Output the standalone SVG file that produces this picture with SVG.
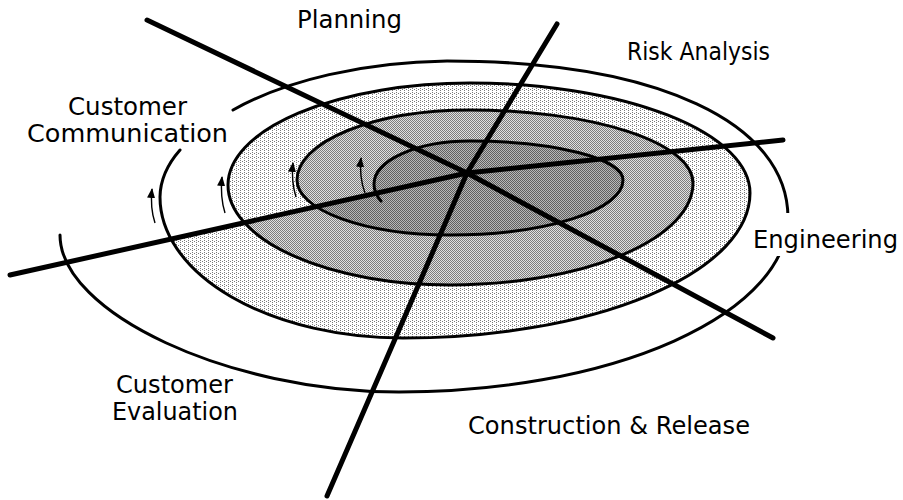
<svg xmlns="http://www.w3.org/2000/svg" width="903" height="500" viewBox="0 0 903 500">
<defs>
<pattern id="pLight" width="4" height="4" patternUnits="userSpaceOnUse"><rect width="4" height="4" fill="#fff"/><rect x="0" y="0" width="1" height="1" fill="#7a7a7a"/><rect x="2" y="1" width="1" height="1" fill="#7a7a7a"/><rect x="0" y="2" width="1" height="1" fill="#7a7a7a"/></pattern>
<pattern id="pMed" width="2" height="2" patternUnits="userSpaceOnUse"><rect width="2" height="2" fill="#e0e0e0"/><rect x="0" y="0" width="1" height="1" fill="#7c7c7c"/><rect x="1" y="1" width="1" height="1" fill="#7c7c7c"/></pattern>
<pattern id="pDark" width="2" height="2" patternUnits="userSpaceOnUse"><rect width="2" height="2" fill="#b8b8b8"/><rect x="0" y="0" width="1" height="1" fill="#606060"/><rect x="1" y="1" width="1" height="1" fill="#606060"/></pattern>
<marker id="ah" viewBox="0 0 10 8" refX="9" refY="4" markerWidth="10" markerHeight="8" markerUnits="userSpaceOnUse" orient="auto"><path d="M0,0 L10,4 L0,8 z" fill="#000"/></marker>
</defs>
<style>
.curve{fill:none;stroke:#000;stroke-width:3;stroke-linecap:round}
.axis{fill:none;stroke:#000;stroke-width:5;stroke-linecap:round;stroke-linejoin:round}
.arr{fill:none;stroke:#000;stroke-width:1.4}
.lbl{font-family:"DejaVu Sans","Liberation Sans",sans-serif;font-size:24px;fill:#000}
</style>
<g id="fills">
<path fill="url(#pLight)" d="M172 240 A243 141 0 0 0 403 338 A347 145 0 0 0 750 193 A280 110 0 0 0 470 83 A242 102 0 0 0 228 185 A222 100 0 0 0 245 223 Z"/>
<path fill="url(#pMed)" d="M245 223 A222 100 0 0 0 450 285 A243 102 0 0 0 693 183 A223 73 0 0 0 470 110 A173 70 0 0 0 297 180 A153 55 0 0 0 316 207 Z"/>
<path fill="url(#pDark)" d="M316 207 A153 55 0 0 0 450 235 A173 55 0 0 0 623 180 A153 39 0 0 0 470 141 A96 43 0 0 0 374 184 A96 45 0 0 0 376 193 Z"/>
</g>
<g id="outer-ring">
<path class="curve" d="M233 110 A291 139 0 0 1 447 61 C658 61 788 123 788 218 A389 174 0 0 1 399 392 C229 392 60 313 60 235"/>
</g>
<g id="spiral">
<path class="curve" d="M180 150 A243 120 0 0 0 160 197 A243 141 0 0 0 403 338 A347 145 0 0 0 750 193 A280 110 0 0 0 470 83 A242 102 0 0 0 228 185 A222 100 0 0 0 450 285 A243 102 0 0 0 693 183 A223 73 0 0 0 470 110 A173 70 0 0 0 297 180 A153 55 0 0 0 450 235 A173 55 0 0 0 623 180 A153 39 0 0 0 470 141 A96 43 0 0 0 374 184 A96 45 0 0 0 381 201"/>
</g>
<g id="connectors">
<polyline class="axis" points="147,20 467,173 773,338"/>
<polyline class="axis" points="10,275 467,173 783,140"/>
<polyline class="axis" points="557,24 467,173 327,496"/>
</g>
<g id="arrows">
<path class="arr" marker-end="url(#ah)" d="M155 223 Q150 208 152 189"/>
<path class="arr" marker-end="url(#ah)" d="M225 213 Q220 197 222 177"/>
<path class="arr" marker-end="url(#ah)" d="M296 197 Q291 181 293 163"/>
<path class="arr" marker-end="url(#ah)" d="M365 193 Q359 177 361 158"/>
</g>
<g id="label-planning"><text class="lbl" x="297" y="28" textLength="105" lengthAdjust="spacingAndGlyphs">Planning</text></g>
<g id="label-risk"><text class="lbl" x="627" y="60" textLength="143" lengthAdjust="spacingAndGlyphs">Risk Analysis</text></g>
<g id="label-communication"><text class="lbl" x="68" y="115" textLength="119" lengthAdjust="spacingAndGlyphs">Customer</text><text class="lbl" x="27" y="142" textLength="201" lengthAdjust="spacingAndGlyphs">Communication</text></g>
<g id="label-engineering"><rect x="750" y="213" width="150" height="43" fill="#fff"/><text class="lbl" x="753" y="248" textLength="145" lengthAdjust="spacingAndGlyphs">Engineering</text></g>
<g id="label-evaluation"><text class="lbl" x="116" y="393" textLength="117" lengthAdjust="spacingAndGlyphs">Customer</text><text class="lbl" x="112" y="420" textLength="126" lengthAdjust="spacingAndGlyphs">Evaluation</text></g>
<g id="label-construction"><text class="lbl" x="468" y="434" textLength="282" lengthAdjust="spacingAndGlyphs">Construction &amp; Release</text></g>
</svg>
